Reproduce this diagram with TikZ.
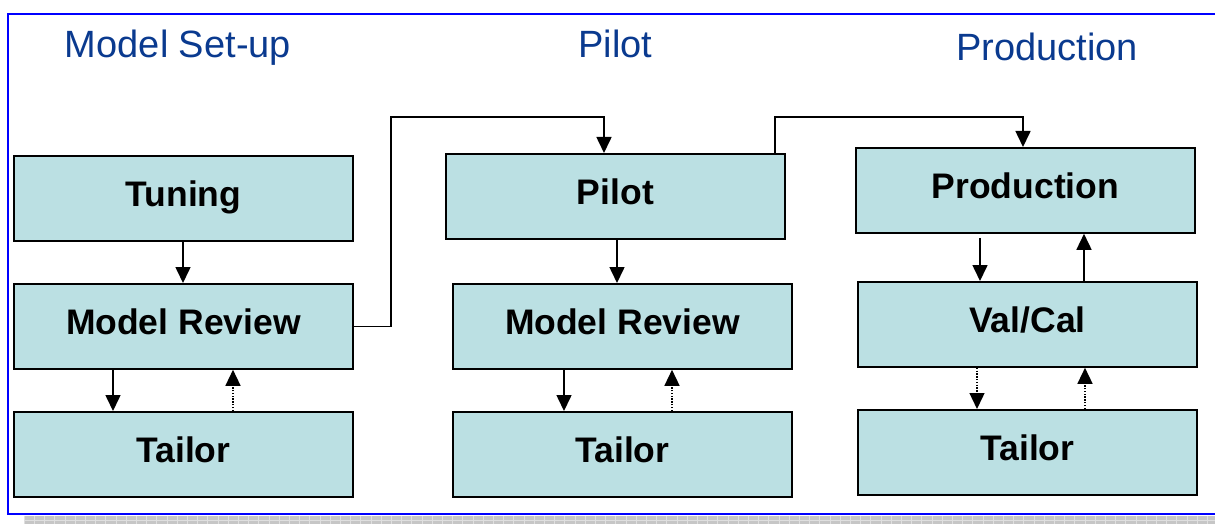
\documentclass[tikz,border=0pt]{standalone}
\usepackage{fontspec}
\setmainfont{Liberation Sans}
\usetikzlibrary{arrows.meta,calc}

\definecolor{boxfill}{HTML}{BBE0E3}
\definecolor{headblue}{HTML}{0A3A8F}
\definecolor{framblue}{HTML}{0000FF}

\tikzset{
  stagebox/.style={draw=black, line width=1.8pt, fill=boxfill, anchor=north west,
    minimum width=339pt, minimum height=85pt, inner sep=0pt,
    text height=26pt, text depth=10pt,
    font=\fontsize{35.5}{40}\selectfont\bfseries},
  heading/.style={anchor=base, text=headblue, inner sep=0pt,
    font=\fontsize{38}{44}\selectfont},
  flow/.style={draw=black, line width=1.6pt,
    -{Triangle[length=16pt,width=15pt]}},
  feedback/.style={flow, line width=1.4pt, dash pattern=on 1.4pt off 1.4pt},
}

\begin{document}
\begin{tikzpicture}[x=1pt,y=-1pt]
\useasboundingbox (0,0) rectangle (1215,524);

% outer frame and shaded strip below it
\fill[gray!45] (24,516) rectangle (1215,524);
\foreach \gx in {24,34.2,...,1215} \draw[gray!25, line width=0.5pt] (\gx,516) -- (\gx,524);
\draw[gray!25, line width=0.5pt] (24,520) -- (1215,520);
\draw[framblue, line width=2pt] (1220,14) -- (8,14) -- (8,514) -- (1220,514);

% phase headings
\node[heading] (h1) at (178,58) {Model Set-up};
\node[heading] (h2) at (615.5,58) {Pilot};
\node[heading] (h3) at (1047,61) {Production};

% model set-up column
\node[stagebox] (tun) at (13,155) {Tuning};
\node[stagebox] (mr1) at (13,283) {Model Review};
\node[stagebox] (tl1) at (13,411) {Tailor};

% pilot column
\node[stagebox] (pil) at (445,153) {Pilot};
\node[stagebox] (mr2) at (452,283) {Model Review};
\node[stagebox] (tl2) at (452,411) {Tailor};

% production column
\node[stagebox] (prd) at (855,147) {Production};
\node[stagebox] (vc)  at (857,281) {Val/Cal};
\node[stagebox] (tl3) at (857,409) {Tailor};

% arrow anchor points along box edges
\coordinate (a1) at ($(tun.south west)+(170,0)$);
\coordinate (a2) at ($(mr1.south west)+(100,0)$);
\coordinate (a3) at ($(tl1.north west)+(220,0)$);
\coordinate (b1) at ($(pil.south west)+(172,0)$);
\coordinate (b2) at ($(mr2.south west)+(112,0)$);
\coordinate (b3) at ($(tl2.north west)+(220,0)$);
\coordinate (c1) at ($(prd.south west)+(125,4)$);
\coordinate (c2) at ($(vc.north west)+(227,0)$);
\coordinate (c3) at ($(vc.south west)+(120,0)$);
\coordinate (c4) at ($(tl3.north west)+(228,0)$);

% links between phases
\coordinate (j1) at (391,117);
\coordinate (t1) at ($(pil.north west)+(159,0)$);
\coordinate (s2) at ($(pil.north west)+(330,0)$);
\coordinate (t2) at ($(prd.north west)+(168,0)$);
\draw[flow] ($(mr1.east)+(-2,0)$) -| (j1) -| (t1);
\draw[flow] (s2) -- (s2 |- j1) -| (t2);

% flow within each column
\draw[flow] (a1) -- (a1 |- mr1.north);
\draw[flow] (a2) -- (a2 |- tl1.north);
\draw[feedback] (a3) -- (a3 |- mr1.south);

\draw[flow] (b1) -- (b1 |- mr2.north);
\draw[flow] (b2) -- (b2 |- tl2.north);
\draw[feedback] (b3) -- (b3 |- mr2.south);

\draw[flow] (c1) -- (c1 |- vc.north);
\draw[flow] (c2) -- (c2 |- prd.south);
\draw[feedback] (c3) -- (c3 |- tl3.north);
\draw[feedback] (c4) -- (c4 |- vc.south);
\end{tikzpicture}
\end{document}
